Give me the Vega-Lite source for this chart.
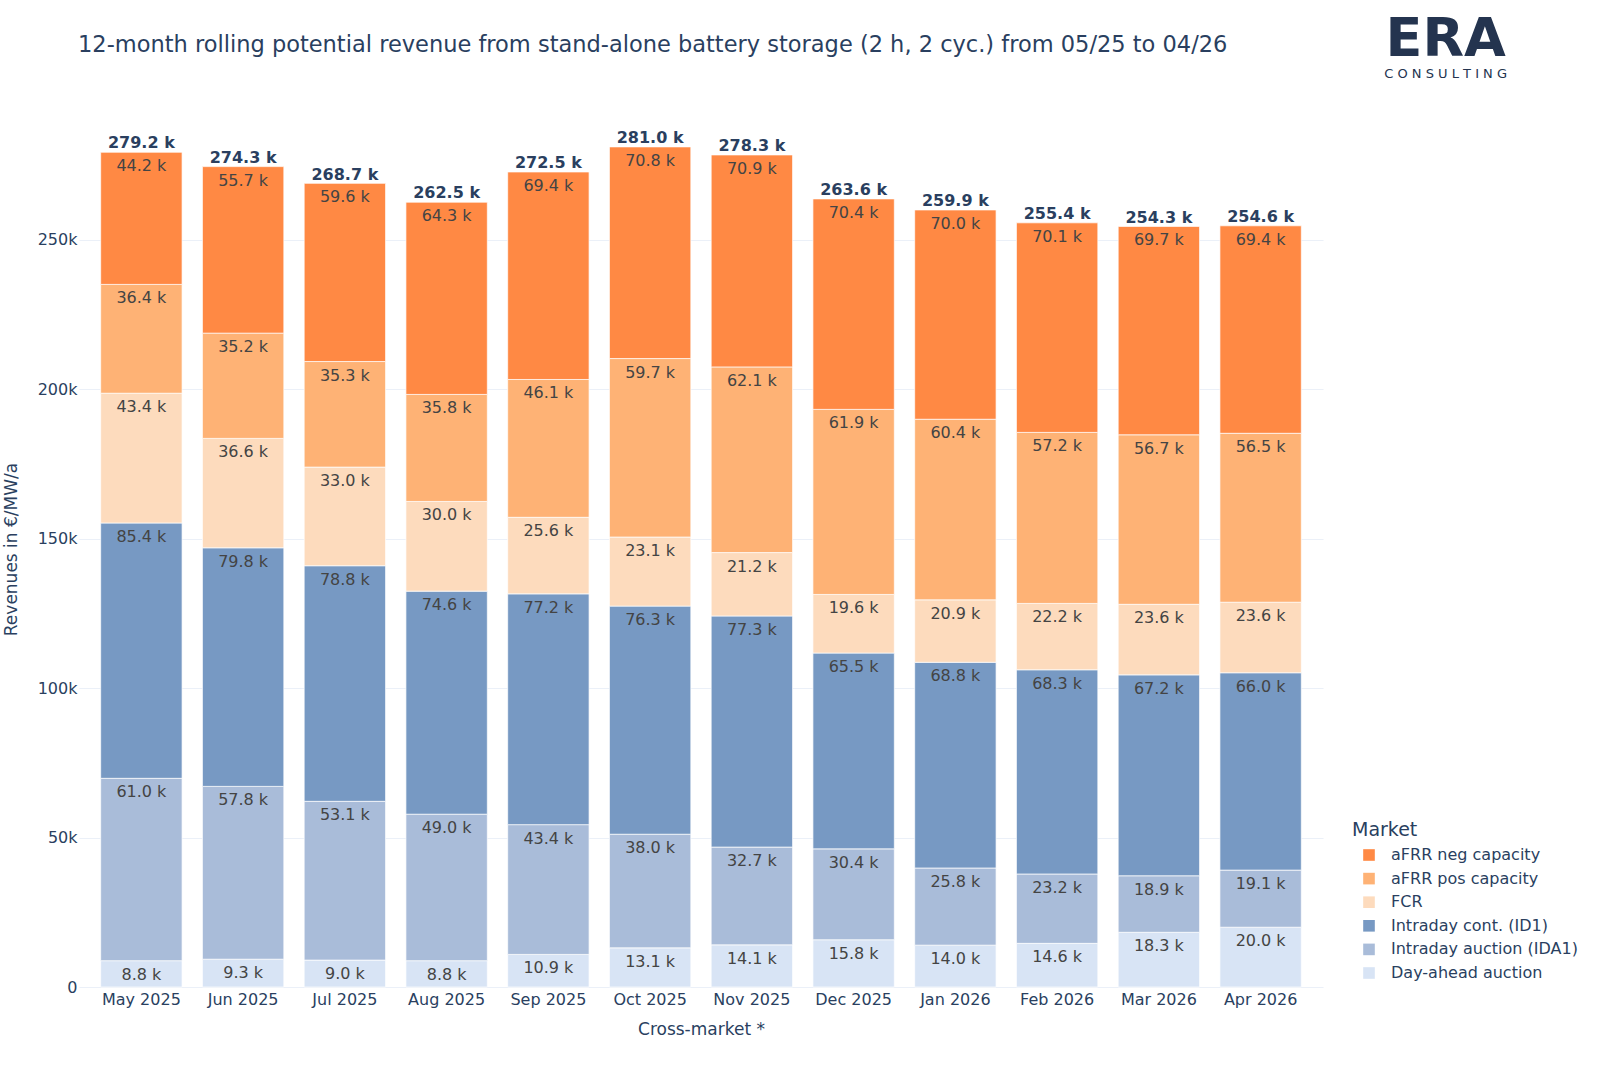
{
  "$schema": "https://vega.github.io/schema/vega-lite/v6.json",
  "width": 1244,
  "height": 876,
  "padding": {"left": 2, "top": 12, "right": 5, "bottom": 5},
  "background": "white",
  "config": {
    "font": "DejaVu Sans",
    "view": {"stroke": null},
    "axis": {"labelColor": "#2a3f5f", "titleColor": "#2a3f5f", "labelFontSize": 16, "titleFontSize": 17, "titleFontWeight": "normal"}
  },
  "title": {
    "text": "12-month rolling potential revenue from stand-alone battery storage (2 h, 2 cyc.) from 05/25 to 04/26",
    "anchor": "start",
    "frame": "group",
    "dx": -1,
    "baseline": "alphabetic",
    "fontSize": 22.5,
    "fontWeight": "normal",
    "color": "#2a3f5f",
    "offset": -62
  },
  "datasets": {
    "revenue": [
      {"month": "May 2025", "market": "Day-ahead auction", "value": 8800},
      {"month": "May 2025", "market": "Intraday auction (IDA1)", "value": 61000},
      {"month": "May 2025", "market": "Intraday cont. (ID1)", "value": 85400},
      {"month": "May 2025", "market": "FCR", "value": 43400},
      {"month": "May 2025", "market": "aFRR pos capacity", "value": 36400},
      {"month": "May 2025", "market": "aFRR neg capacity", "value": 44200},
      {"month": "Jun 2025", "market": "Day-ahead auction", "value": 9300},
      {"month": "Jun 2025", "market": "Intraday auction (IDA1)", "value": 57800},
      {"month": "Jun 2025", "market": "Intraday cont. (ID1)", "value": 79800},
      {"month": "Jun 2025", "market": "FCR", "value": 36600},
      {"month": "Jun 2025", "market": "aFRR pos capacity", "value": 35200},
      {"month": "Jun 2025", "market": "aFRR neg capacity", "value": 55700},
      {"month": "Jul 2025", "market": "Day-ahead auction", "value": 9000},
      {"month": "Jul 2025", "market": "Intraday auction (IDA1)", "value": 53100},
      {"month": "Jul 2025", "market": "Intraday cont. (ID1)", "value": 78800},
      {"month": "Jul 2025", "market": "FCR", "value": 33000},
      {"month": "Jul 2025", "market": "aFRR pos capacity", "value": 35300},
      {"month": "Jul 2025", "market": "aFRR neg capacity", "value": 59600},
      {"month": "Aug 2025", "market": "Day-ahead auction", "value": 8800},
      {"month": "Aug 2025", "market": "Intraday auction (IDA1)", "value": 49000},
      {"month": "Aug 2025", "market": "Intraday cont. (ID1)", "value": 74600},
      {"month": "Aug 2025", "market": "FCR", "value": 30000},
      {"month": "Aug 2025", "market": "aFRR pos capacity", "value": 35800},
      {"month": "Aug 2025", "market": "aFRR neg capacity", "value": 64300},
      {"month": "Sep 2025", "market": "Day-ahead auction", "value": 10900},
      {"month": "Sep 2025", "market": "Intraday auction (IDA1)", "value": 43400},
      {"month": "Sep 2025", "market": "Intraday cont. (ID1)", "value": 77200},
      {"month": "Sep 2025", "market": "FCR", "value": 25600},
      {"month": "Sep 2025", "market": "aFRR pos capacity", "value": 46100},
      {"month": "Sep 2025", "market": "aFRR neg capacity", "value": 69400},
      {"month": "Oct 2025", "market": "Day-ahead auction", "value": 13100},
      {"month": "Oct 2025", "market": "Intraday auction (IDA1)", "value": 38000},
      {"month": "Oct 2025", "market": "Intraday cont. (ID1)", "value": 76300},
      {"month": "Oct 2025", "market": "FCR", "value": 23100},
      {"month": "Oct 2025", "market": "aFRR pos capacity", "value": 59700},
      {"month": "Oct 2025", "market": "aFRR neg capacity", "value": 70800},
      {"month": "Nov 2025", "market": "Day-ahead auction", "value": 14100},
      {"month": "Nov 2025", "market": "Intraday auction (IDA1)", "value": 32700},
      {"month": "Nov 2025", "market": "Intraday cont. (ID1)", "value": 77300},
      {"month": "Nov 2025", "market": "FCR", "value": 21200},
      {"month": "Nov 2025", "market": "aFRR pos capacity", "value": 62100},
      {"month": "Nov 2025", "market": "aFRR neg capacity", "value": 70900},
      {"month": "Dec 2025", "market": "Day-ahead auction", "value": 15800},
      {"month": "Dec 2025", "market": "Intraday auction (IDA1)", "value": 30400},
      {"month": "Dec 2025", "market": "Intraday cont. (ID1)", "value": 65500},
      {"month": "Dec 2025", "market": "FCR", "value": 19600},
      {"month": "Dec 2025", "market": "aFRR pos capacity", "value": 61900},
      {"month": "Dec 2025", "market": "aFRR neg capacity", "value": 70400},
      {"month": "Jan 2026", "market": "Day-ahead auction", "value": 14000},
      {"month": "Jan 2026", "market": "Intraday auction (IDA1)", "value": 25800},
      {"month": "Jan 2026", "market": "Intraday cont. (ID1)", "value": 68800},
      {"month": "Jan 2026", "market": "FCR", "value": 20900},
      {"month": "Jan 2026", "market": "aFRR pos capacity", "value": 60400},
      {"month": "Jan 2026", "market": "aFRR neg capacity", "value": 70000},
      {"month": "Feb 2026", "market": "Day-ahead auction", "value": 14600},
      {"month": "Feb 2026", "market": "Intraday auction (IDA1)", "value": 23200},
      {"month": "Feb 2026", "market": "Intraday cont. (ID1)", "value": 68300},
      {"month": "Feb 2026", "market": "FCR", "value": 22200},
      {"month": "Feb 2026", "market": "aFRR pos capacity", "value": 57200},
      {"month": "Feb 2026", "market": "aFRR neg capacity", "value": 70100},
      {"month": "Mar 2026", "market": "Day-ahead auction", "value": 18300},
      {"month": "Mar 2026", "market": "Intraday auction (IDA1)", "value": 18900},
      {"month": "Mar 2026", "market": "Intraday cont. (ID1)", "value": 67200},
      {"month": "Mar 2026", "market": "FCR", "value": 23600},
      {"month": "Mar 2026", "market": "aFRR pos capacity", "value": 56700},
      {"month": "Mar 2026", "market": "aFRR neg capacity", "value": 69700},
      {"month": "Apr 2026", "market": "Day-ahead auction", "value": 20000},
      {"month": "Apr 2026", "market": "Intraday auction (IDA1)", "value": 19100},
      {"month": "Apr 2026", "market": "Intraday cont. (ID1)", "value": 66000},
      {"month": "Apr 2026", "market": "FCR", "value": 23600},
      {"month": "Apr 2026", "market": "aFRR pos capacity", "value": 56500},
      {"month": "Apr 2026", "market": "aFRR neg capacity", "value": 69400}
    ],
    "totals": [
      {"month": "May 2025", "total": 279200},
      {"month": "Jun 2025", "total": 274300},
      {"month": "Jul 2025", "total": 268700},
      {"month": "Aug 2025", "total": 262500},
      {"month": "Sep 2025", "total": 272500},
      {"month": "Oct 2025", "total": 281000},
      {"month": "Nov 2025", "total": 278300},
      {"month": "Dec 2025", "total": 263600},
      {"month": "Jan 2026", "total": 259900},
      {"month": "Feb 2026", "total": 255400},
      {"month": "Mar 2026", "total": 254300},
      {"month": "Apr 2026", "total": 254600}
    ],
    "logo": [
      {"brand": "ERA", "tagline": "C O N S U L T I N G"}
    ]
  },
  "layer": [
    {
      "data": {"name": "revenue"},
      "transform": [
        {"calculate": "indexof(['Day-ahead auction', 'Intraday auction (IDA1)', 'Intraday cont. (ID1)', 'FCR', 'aFRR pos capacity', 'aFRR neg capacity'], datum.market)", "as": "rank"}
      ],
      "mark": {"type": "bar", "stroke": "white", "strokeWidth": 0.7},
      "encoding": {
        "x": {"field": "month", "type": "ordinal", "sort": null, "title": "Cross-market *",
          "scale": {"paddingInner": 0.2, "paddingOuter": 0.213},
          "axis": {"labelAngle": 0, "ticks": false, "domain": false, "labelPadding": 4, "titlePadding": 14}},
        "y": {"field": "value", "type": "quantitative", "stack": "zero", "title": "Revenues in €/MW/a",
          "scale": {"domain": [0, 293000], "nice": false},
          "axis": {"values": [0, 50000, 100000, 150000, 200000, 250000], "labelExpr": "datum.value === 0 ? '0' : format(datum.value, '~s')", "ticks": false, "domain": false, "gridColor": "#ebf0f8", "gridWidth": 1.2, "labelPadding": 2, "titlePadding": 17}},
        "color": {"field": "market", "type": "nominal", "title": "Market",
          "scale": {
            "domain": ["aFRR neg capacity", "aFRR pos capacity", "FCR", "Intraday cont. (ID1)", "Intraday auction (IDA1)", "Day-ahead auction"],
            "range": ["#ff8944", "#feb275", "#fddbbd", "#7799c3", "#a9bcd9", "#d8e4f5"]
          },
          "legend": {
            "orient": "none", "legendX": 1273, "legendY": 710,
            "symbolType": "square", "symbolSize": 135, "symbolStrokeWidth": 0, "symbolOffset": 9,
            "labelFontSize": 16, "labelColor": "#2a3f5f", "labelLimit": 300, "labelOffset": 14,
            "titleFontSize": 19, "titleFontWeight": "normal", "titleColor": "#2a3f5f",
            "rowPadding": 7.6, "titlePadding": 7
          }},
        "order": {"field": "rank", "type": "quantitative"}
      }
    },
    {
      "data": {"name": "revenue"},
      "transform": [
        {"calculate": "indexof(['Day-ahead auction', 'Intraday auction (IDA1)', 'Intraday cont. (ID1)', 'FCR', 'aFRR pos capacity', 'aFRR neg capacity'], datum.market)", "as": "rank"},
        {"calculate": "format(datum.value / 1000, '.1f') + ' k'", "as": "label"}
      ],
      "mark": {"type": "text", "baseline": "middle", "dy": 14, "fontSize": 16, "color": "#444444"},
      "encoding": {
        "x": {"field": "month", "type": "ordinal", "sort": null},
        "y": {"field": "value", "type": "quantitative", "stack": "zero"},
        "order": {"field": "rank", "type": "quantitative"},
        "text": {"field": "label"}
      }
    },
    {
      "data": {"name": "totals"},
      "transform": [
        {"calculate": "format(datum.total / 1000, '.1f') + ' k'", "as": "label"}
      ],
      "mark": {"type": "text", "baseline": "middle", "dy": -9, "fontSize": 16, "fontWeight": "bold", "color": "#2a3f5f"},
      "encoding": {
        "x": {"field": "month", "type": "ordinal", "sort": null},
        "y": {"field": "total", "type": "quantitative"},
        "text": {"field": "label"}
      }
    },
    {
      "data": {"name": "logo"},
      "mark": {"type": "text", "fontSize": 54, "fontWeight": "bold", "color": "#24344f", "align": "center", "baseline": "alphabetic", "dx": 185},
      "encoding": {
        "x": {"datum": "Apr 2026"},
        "y": {"datum": 311500},
        "text": {"field": "brand"}
      }
    },
    {
      "data": {"name": "logo"},
      "mark": {"type": "text", "fontSize": 13, "color": "#24344f", "align": "center", "baseline": "alphabetic", "dx": 185},
      "encoding": {
        "x": {"datum": "Apr 2026"},
        "y": {"datum": 303900},
        "text": {"field": "tagline"}
      }
    }
  ]
}
